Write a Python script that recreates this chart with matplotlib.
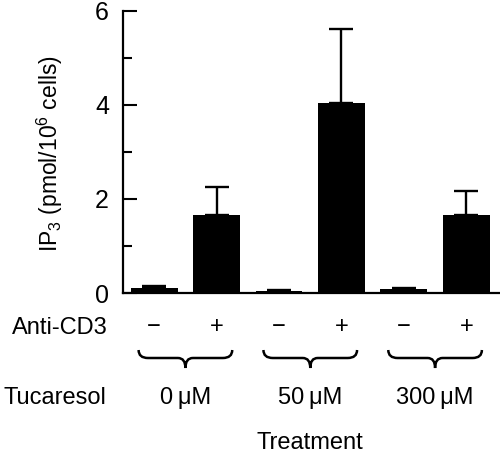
import matplotlib
matplotlib.use("Agg")
import matplotlib.pyplot as plt
from matplotlib.path import Path
from matplotlib.patches import PathPatch
from matplotlib.transforms import blended_transform_factory

plt.rcParams['font.family'] = ['Liberation Sans', 'DejaVu Sans']
plt.rcParams['mathtext.default'] = 'regular'

# Datos
anti_cd3 = ["\u2212", "+", "\u2212", "+", "\u2212", "+"]
doses = ["0\u2009\u03bcM", "50\u2009\u03bcM", "300\u2009\u03bcM"]
ip3_media = [0.10, 1.66, 0.05, 4.04, 0.08, 1.66]
ip3_erro = [0.05, 0.60, 0.02, 1.58, 0.03, 0.51]

fig = plt.figure(figsize=(5, 4.62), dpi=100)
ax = fig.add_axes([0.246, 0.3658, 0.754, 0.6104])

x = list(range(len(ip3_media)))
ax.bar(x, ip3_media, width=0.75, color="black")
ax.errorbar(x, ip3_media, yerr=[[0] * len(ip3_erro), ip3_erro], fmt="none",
            ecolor="black", elinewidth=1.7, capsize=8.5, capthick=1.7)

ax.set_xlim(-0.5, 5.54)
ax.set_ylim(0, 6)
ax.set_yticks([0, 2, 4, 6])
ax.set_yticks([1, 3, 5], minor=True)
ax.set_xticks([])
ax.tick_params(axis="y", which="major", direction="in", length=10, width=1.5,
               labelsize=18, pad=10)
ax.tick_params(axis="y", which="minor", direction="in", length=6.5, width=1.5)
for s in ["top", "right"]:
    ax.spines[s].set_visible(False)
for s in ["left", "bottom"]:
    ax.spines[s].set_linewidth(1.6)

fig.text(0.1, 1 - 154 / 462, "IP$_3$ (pmol/10$^6$ cells)", rotation=90,
         ha="center", va="center", fontsize=16.5)

# Linhas de texto abaixo do eixo
trans = blended_transform_factory(ax.transData, fig.transFigure)
fig.text(0.12, 1 - 328 / 462, "Anti-CD3", ha="center", va="center", fontsize=17)
for xi, s in zip(x, anti_cd3):
    ax.text(xi, 1 - 327 / 462, s, transform=trans, ha="center", va="center",
            fontsize=17, clip_on=False)

fig.text(0.11, 1 - 398 / 462, "Tucaresol", ha="center", va="center", fontsize=17)
for i, d in enumerate(doses):
    ax.text(2 * i + 0.5, 1 - 398 / 462, d, transform=trans, ha="center",
            va="center", fontsize=17, clip_on=False)

fig.text(0.62, 1 - 443 / 462, "Treatment", ha="center", va="center", fontsize=17)

# Chaves
y_top = 1 - 350 / 462
y_body = 1 - 358 / 462
y_tip = 1 - 368 / 462
for i in range(3):
    x0 = 2 * i - 0.25
    x1 = 2 * i + 1.25
    xm = (x0 + x1) / 2
    verts = [(x0, y_top), (x0, y_body), (x0 + 0.15, y_body),
             (xm - 0.12, y_body),
             (xm, y_body), (xm, y_tip),
             (xm, y_body), (xm + 0.12, y_body),
             (x1 - 0.15, y_body),
             (x1, y_body), (x1, y_top)]
    codes = [Path.MOVETO, Path.CURVE3, Path.CURVE3, Path.LINETO,
             Path.CURVE3, Path.CURVE3, Path.CURVE3, Path.CURVE3,
             Path.LINETO, Path.CURVE3, Path.CURVE3]
    patch = PathPatch(Path(verts, codes), transform=trans, fill=False,
                      lw=1.8, color="black", clip_on=False)
    fig.add_artist(patch)

fig.savefig("out.png", dpi=100)
